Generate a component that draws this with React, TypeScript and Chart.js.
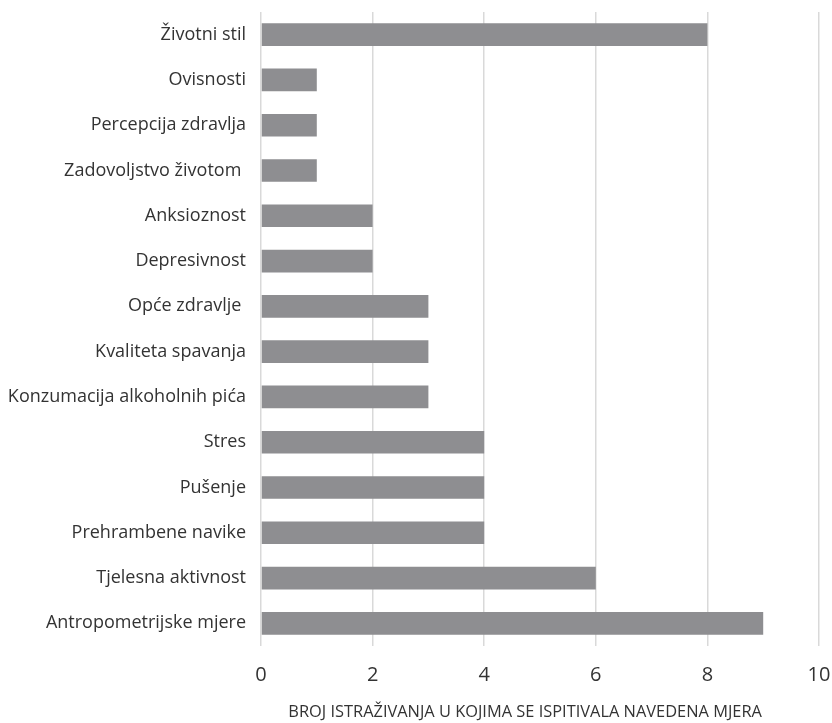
import React, { useEffect, useRef } from "react";
import { Chart, registerables } from "chart.js";

Chart.register(...registerables);

const categories = [
  "Životni stil",
  "Ovisnosti",
  "Percepcija zdravlja",
  "Zadovoljstvo životom ",
  "Anksioznost",
  "Depresivnost",
  "Opće zdravlje ",
  "Kvaliteta spavanja",
  "Konzumacija alkoholnih pića",
  "Stres",
  "Pušenje",
  "Prehrambene navike",
  "Tjelesna aktivnost",
  "Antropometrijske mjere",
];

const counts = [8, 1, 1, 1, 2, 2, 3, 3, 3, 4, 4, 4, 6, 9];

const xTitle = "BROJ ISTRAŽIVANJA U KOJIMA SE ISPITIVALA NAVEDENA MJERA";

export default function App() {
  const ref = useRef<HTMLCanvasElement | null>(null);

  useEffect(() => {
    if (!ref.current) return;
    const chart = new Chart(ref.current, {
      type: "bar",
      data: {
        labels: categories,
        datasets: [
          {
            data: counts,
            backgroundColor: "#8e8e91",
            borderWidth: 0,
            barPercentage: 0.5,
            categoryPercentage: 1,
          },
        ],
      },
      options: {
        indexAxis: "y",
        animation: false,
        responsive: false,
        devicePixelRatio: 1,
        layout: { padding: { top: 12, right: 13, left: 0, bottom: 0 } },
        plugins: { legend: { display: false }, tooltip: { enabled: false } },
        scales: {
          x: {
            min: 0,
            max: 10,
            ticks: {
              stepSize: 2,
              padding: 17,
              color: "#333333",
              font: { family: "Open Sans", size: 20 },
            },
            grid: { color: "#d9d9d9", lineWidth: 1.5, drawTicks: false },
            border: { display: false },
            title: {
              display: true,
              text: xTitle + "       ",
              color: "#333333",
              font: { family: "Open Sans", size: 16.4 },
              padding: { top: 0, bottom: 1 },
            },
            afterFit: (scale: any) => {
              scale.height = 77;
              scale.paddingLeft = 0;
              scale.paddingRight = 0;
            },
          },
          y: {
            ticks: {
              padding: 15,
              color: "#333333",
              font: { family: "Open Sans", size: 18 },
            },
            grid: { display: false, drawTicks: false },
            border: { display: false },
            afterFit: (scale: any) => {
              scale.width = 261;
              scale.paddingTop = 0;
              scale.paddingBottom = 0;
            },
          },
        },
      },
    });
    return () => chart.destroy();
  }, []);

  return (
    <div style={{ position: "absolute", left: 0, top: 0, width: 832, height: 723, background: "#fff" }}>
      <canvas ref={ref} width={832} height={723} style={{ width: 832, height: 723 }} />
    </div>
  );
}
